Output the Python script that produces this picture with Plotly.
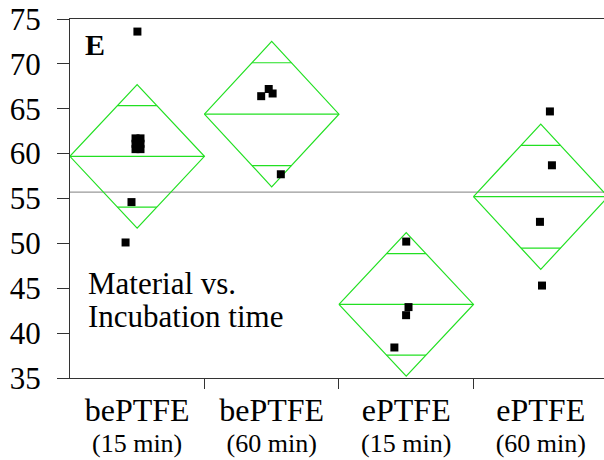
import math
import plotly.graph_objects as go

# ---- data ----
categories = ["bePTFE", "bePTFE", "ePTFE", "ePTFE"]
sub_labels = ["(15 min)", "(60 min)", "(15 min)", "(60 min)"]
group_means = [59.7, 64.4, 43.2, 55.2]
group_ci = [8.0, 8.1, 8.0, 8.1]
grand_mean = 55.7
y_ticks = [35, 40, 45, 50, 55, 60, 65, 70, 75]

pt_group = [0, 0, 0, 0, 0, 0, 0, 0, 0,
            1, 1, 1, 1,
            2, 2, 2, 2,
            3, 3, 3, 3]
pt_jitter = [0.002, -0.012, 0.025, -0.012, 0.025, -0.012, 0.025, -0.042, -0.086,
             -0.078, -0.022, 0.007, 0.068,
             0.0, 0.017, -0.001, -0.088,
             0.068, 0.083, -0.006, 0.009]
pt_value = [73.6, 61.7, 61.7, 61.1, 61.1, 60.5, 60.5, 54.6, 50.1,
            66.4, 67.2, 66.7, 57.7,
            50.2, 42.9, 42.0, 38.4,
            64.7, 58.7, 52.4, 45.3]

GREEN = "#22e022"
FONT = "Liberation Serif, Times New Roman, serif"

fig = go.Figure()

# diamonds
half = 0.5
ov = 1 / math.sqrt(2)
for i, (m, c) in enumerate(zip(group_means, group_ci)):
    xs = [i - half, i, i + half, i, i - half, None, i - half, i + half]
    ys = [m, m + c, m, m - c, m, None, m, m]
    # overlap marks
    w = half * (1 - ov)
    xs += [None, i - w, i + w, None, i - w, i + w]
    ys += [None, m + c * ov, m + c * ov, None, m - c * ov, m - c * ov]
    fig.add_trace(go.Scatter(x=xs, y=ys, mode="lines",
                             line=dict(color=GREEN, width=1.2),
                             hoverinfo="skip", showlegend=False))

# points
fig.add_trace(go.Scatter(
    x=[g + j for g, j in zip(pt_group, pt_jitter)], y=pt_value,
    mode="markers",
    marker=dict(symbol="square", size=8, color="black", line=dict(width=0)),
    showlegend=False))

fig.add_shape(type="line", xref="paper", x0=0, x1=1, yref="y",
              y0=grand_mean, y1=grand_mean,
              line=dict(color="#999999", width=1.2), layer="below")

ticktext = [f'<span style="font-size:32px">{c}</span><br><span style="font-size:26px">{s}</span>'
            for c, s in zip(categories, sub_labels)]

fig.update_layout(
    width=604, height=460,
    margin=dict(l=70, r=0, t=19, b=82),
    paper_bgcolor="white", plot_bgcolor="white",
    font=dict(family=FONT, color="black"),
    xaxis=dict(range=[-0.499, 3.47], tickmode="array", tickvals=[0, 1, 2, 3],
               ticktext=ticktext, ticks="", showgrid=False, zeroline=False,
               showline=True, linecolor="#333333", linewidth=1.2, mirror=True,
               tickfont=dict(family=FONT, size=23.4, color="black"),
               ticklabelstandoff=14,
               minor=dict(tickmode="array", tickvals=[0.5, 1.5, 2.5],
                          ticks="outside", ticklen=10, tickcolor="#333333",
                          tickwidth=1.2, showgrid=False)),
    yaxis=dict(range=[35, 75], tickmode="array", tickvals=y_ticks,
               ticks="outside", ticklen=12, tickcolor="#333333", tickwidth=1.2,
               showgrid=False, zeroline=False, showline=True,
               linecolor="#333333", linewidth=1.2,
               tickfont=dict(family=FONT, size=31, color="black"),
               ticklabelstandoff=10),
)

fig.add_annotation(text="<b>E</b>", xref="paper", yref="paper",
                   x=0.024, y=0.928, xanchor="left", yanchor="middle",
                   showarrow=False, font=dict(family=FONT, size=30, color="black"))
fig.add_annotation(text="Material vs.", xref="paper", yref="paper",
                   x=0.030, y=0.2646, xanchor="left", yanchor="middle",
                   showarrow=False, font=dict(family=FONT, size=31, color="black"))
fig.add_annotation(text="Incubation time", xref="paper", yref="paper",
                   x=0.030, y=0.1727, xanchor="left", yanchor="middle",
                   showarrow=False, font=dict(family=FONT, size=31, color="black"))

fig.write_html("out.html")
